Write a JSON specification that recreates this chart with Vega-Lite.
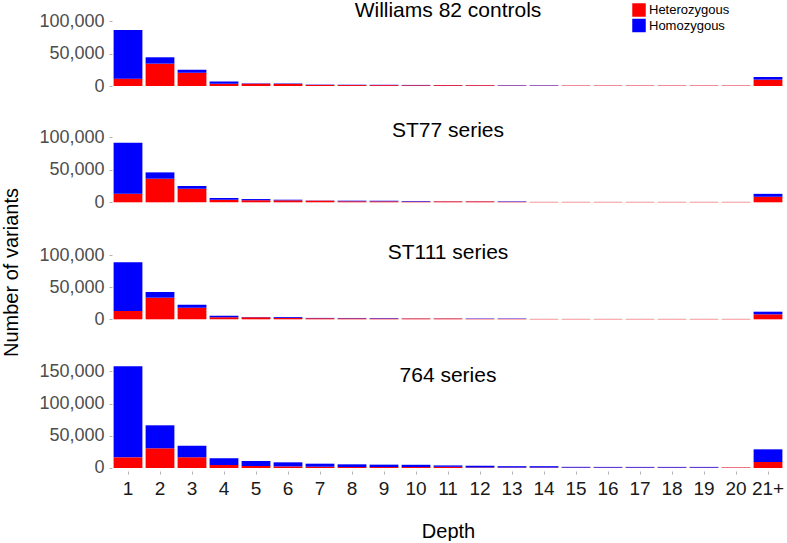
{
  "$schema": "https://vega.github.io/schema/vega-lite/v6.json",
  "padding": {"left": 0, "top": 0, "right": 0, "bottom": 0},
  "background": "white",
  "data": {"values": [
    {"series":"Williams 82 controls","depth":"1","type":"Heterozygous","count":11400},{"series":"Williams 82 controls","depth":"1","type":"Homozygous","count":75200},
    {"series":"Williams 82 controls","depth":"2","type":"Heterozygous","count":34600},{"series":"Williams 82 controls","depth":"2","type":"Homozygous","count":9800},
    {"series":"Williams 82 controls","depth":"3","type":"Heterozygous","count":20700},{"series":"Williams 82 controls","depth":"3","type":"Homozygous","count":4600},
    {"series":"Williams 82 controls","depth":"4","type":"Heterozygous","count":3700},{"series":"Williams 82 controls","depth":"4","type":"Homozygous","count":3100},
    {"series":"Williams 82 controls","depth":"5","type":"Heterozygous","count":3600},{"series":"Williams 82 controls","depth":"5","type":"Homozygous","count":600},
    {"series":"Williams 82 controls","depth":"6","type":"Heterozygous","count":3300},{"series":"Williams 82 controls","depth":"6","type":"Homozygous","count":700},
    {"series":"Williams 82 controls","depth":"7","type":"Heterozygous","count":1700},{"series":"Williams 82 controls","depth":"7","type":"Homozygous","count":500},
    {"series":"Williams 82 controls","depth":"8","type":"Heterozygous","count":1500},{"series":"Williams 82 controls","depth":"8","type":"Homozygous","count":500},
    {"series":"Williams 82 controls","depth":"9","type":"Heterozygous","count":1400},{"series":"Williams 82 controls","depth":"9","type":"Homozygous","count":500},
    {"series":"Williams 82 controls","depth":"10","type":"Heterozygous","count":1200},{"series":"Williams 82 controls","depth":"10","type":"Homozygous","count":500},
    {"series":"Williams 82 controls","depth":"11","type":"Heterozygous","count":1300},{"series":"Williams 82 controls","depth":"11","type":"Homozygous","count":200},
    {"series":"Williams 82 controls","depth":"12","type":"Heterozygous","count":1200},{"series":"Williams 82 controls","depth":"12","type":"Homozygous","count":200},
    {"series":"Williams 82 controls","depth":"13","type":"Heterozygous","count":700},{"series":"Williams 82 controls","depth":"13","type":"Homozygous","count":600},
    {"series":"Williams 82 controls","depth":"14","type":"Heterozygous","count":600},{"series":"Williams 82 controls","depth":"14","type":"Homozygous","count":600},
    {"series":"Williams 82 controls","depth":"15","type":"Heterozygous","count":700},{"series":"Williams 82 controls","depth":"15","type":"Homozygous","count":100},
    {"series":"Williams 82 controls","depth":"16","type":"Heterozygous","count":700},{"series":"Williams 82 controls","depth":"16","type":"Homozygous","count":100},
    {"series":"Williams 82 controls","depth":"17","type":"Heterozygous","count":700},{"series":"Williams 82 controls","depth":"17","type":"Homozygous","count":100},
    {"series":"Williams 82 controls","depth":"18","type":"Heterozygous","count":700},{"series":"Williams 82 controls","depth":"18","type":"Homozygous","count":100},
    {"series":"Williams 82 controls","depth":"19","type":"Heterozygous","count":700},{"series":"Williams 82 controls","depth":"19","type":"Homozygous","count":100},
    {"series":"Williams 82 controls","depth":"20","type":"Heterozygous","count":700},{"series":"Williams 82 controls","depth":"20","type":"Homozygous","count":100},
    {"series":"Williams 82 controls","depth":"21+","type":"Heterozygous","count":9900},{"series":"Williams 82 controls","depth":"21+","type":"Homozygous","count":4000},

    {"series":"ST77 series","depth":"1","type":"Heterozygous","count":13200},{"series":"ST77 series","depth":"1","type":"Homozygous","count":78500},
    {"series":"ST77 series","depth":"2","type":"Heterozygous","count":36300},{"series":"ST77 series","depth":"2","type":"Homozygous","count":9700},
    {"series":"ST77 series","depth":"3","type":"Heterozygous","count":21000},{"series":"ST77 series","depth":"3","type":"Homozygous","count":4000},
    {"series":"ST77 series","depth":"4","type":"Heterozygous","count":4000},{"series":"ST77 series","depth":"4","type":"Homozygous","count":2600},
    {"series":"ST77 series","depth":"5","type":"Heterozygous","count":3200},{"series":"ST77 series","depth":"5","type":"Homozygous","count":1800},
    {"series":"ST77 series","depth":"6","type":"Heterozygous","count":3000},{"series":"ST77 series","depth":"6","type":"Homozygous","count":1000},
    {"series":"ST77 series","depth":"7","type":"Heterozygous","count":2500},{"series":"ST77 series","depth":"7","type":"Homozygous","count":300},
    {"series":"ST77 series","depth":"8","type":"Heterozygous","count":1600},{"series":"ST77 series","depth":"8","type":"Homozygous","count":900},
    {"series":"ST77 series","depth":"9","type":"Heterozygous","count":1500},{"series":"ST77 series","depth":"9","type":"Homozygous","count":900},
    {"series":"ST77 series","depth":"10","type":"Heterozygous","count":1100},{"series":"ST77 series","depth":"10","type":"Homozygous","count":900},
    {"series":"ST77 series","depth":"11","type":"Heterozygous","count":1400},{"series":"ST77 series","depth":"11","type":"Homozygous","count":200},
    {"series":"ST77 series","depth":"12","type":"Heterozygous","count":1400},{"series":"ST77 series","depth":"12","type":"Homozygous","count":200},
    {"series":"ST77 series","depth":"13","type":"Heterozygous","count":800},{"series":"ST77 series","depth":"13","type":"Homozygous","count":700},
    {"series":"ST77 series","depth":"14","type":"Heterozygous","count":600},{"series":"ST77 series","depth":"14","type":"Homozygous","count":50},
    {"series":"ST77 series","depth":"15","type":"Heterozygous","count":600},{"series":"ST77 series","depth":"15","type":"Homozygous","count":50},
    {"series":"ST77 series","depth":"16","type":"Heterozygous","count":600},{"series":"ST77 series","depth":"16","type":"Homozygous","count":50},
    {"series":"ST77 series","depth":"17","type":"Heterozygous","count":600},{"series":"ST77 series","depth":"17","type":"Homozygous","count":50},
    {"series":"ST77 series","depth":"18","type":"Heterozygous","count":600},{"series":"ST77 series","depth":"18","type":"Homozygous","count":50},
    {"series":"ST77 series","depth":"19","type":"Heterozygous","count":600},{"series":"ST77 series","depth":"19","type":"Homozygous","count":50},
    {"series":"ST77 series","depth":"20","type":"Heterozygous","count":600},{"series":"ST77 series","depth":"20","type":"Homozygous","count":50},
    {"series":"ST77 series","depth":"21+","type":"Heterozygous","count":8500},{"series":"ST77 series","depth":"21+","type":"Homozygous","count":4500},

    {"series":"ST111 series","depth":"1","type":"Heterozygous","count":13000},{"series":"ST111 series","depth":"1","type":"Homozygous","count":76000},
    {"series":"ST111 series","depth":"2","type":"Heterozygous","count":33800},{"series":"ST111 series","depth":"2","type":"Homozygous","count":8900},
    {"series":"ST111 series","depth":"3","type":"Heterozygous","count":18100},{"series":"ST111 series","depth":"3","type":"Homozygous","count":4700},
    {"series":"ST111 series","depth":"4","type":"Heterozygous","count":3100},{"series":"ST111 series","depth":"4","type":"Homozygous","count":2600},
    {"series":"ST111 series","depth":"5","type":"Heterozygous","count":3200},{"series":"ST111 series","depth":"5","type":"Homozygous","count":400},
    {"series":"ST111 series","depth":"6","type":"Heterozygous","count":2200},{"series":"ST111 series","depth":"6","type":"Homozygous","count":1300},
    {"series":"ST111 series","depth":"7","type":"Heterozygous","count":1700},{"series":"ST111 series","depth":"7","type":"Homozygous","count":500},
    {"series":"ST111 series","depth":"8","type":"Heterozygous","count":1500},{"series":"ST111 series","depth":"8","type":"Homozygous","count":600},
    {"series":"ST111 series","depth":"9","type":"Heterozygous","count":1300},{"series":"ST111 series","depth":"9","type":"Homozygous","count":700},
    {"series":"ST111 series","depth":"10","type":"Heterozygous","count":1300},{"series":"ST111 series","depth":"10","type":"Homozygous","count":200},
    {"series":"ST111 series","depth":"11","type":"Heterozygous","count":1300},{"series":"ST111 series","depth":"11","type":"Homozygous","count":200},
    {"series":"ST111 series","depth":"12","type":"Heterozygous","count":700},{"series":"ST111 series","depth":"12","type":"Homozygous","count":600},
    {"series":"ST111 series","depth":"13","type":"Heterozygous","count":700},{"series":"ST111 series","depth":"13","type":"Homozygous","count":600},
    {"series":"ST111 series","depth":"14","type":"Heterozygous","count":600},{"series":"ST111 series","depth":"14","type":"Homozygous","count":50},
    {"series":"ST111 series","depth":"15","type":"Heterozygous","count":600},{"series":"ST111 series","depth":"15","type":"Homozygous","count":50},
    {"series":"ST111 series","depth":"16","type":"Heterozygous","count":600},{"series":"ST111 series","depth":"16","type":"Homozygous","count":50},
    {"series":"ST111 series","depth":"17","type":"Heterozygous","count":600},{"series":"ST111 series","depth":"17","type":"Homozygous","count":50},
    {"series":"ST111 series","depth":"18","type":"Heterozygous","count":600},{"series":"ST111 series","depth":"18","type":"Homozygous","count":50},
    {"series":"ST111 series","depth":"19","type":"Heterozygous","count":600},{"series":"ST111 series","depth":"19","type":"Homozygous","count":50},
    {"series":"ST111 series","depth":"20","type":"Heterozygous","count":600},{"series":"ST111 series","depth":"20","type":"Homozygous","count":50},
    {"series":"ST111 series","depth":"21+","type":"Heterozygous","count":7800},{"series":"ST111 series","depth":"21+","type":"Homozygous","count":4100},

    {"series":"764 series","depth":"1","type":"Heterozygous","count":16600},{"series":"764 series","depth":"1","type":"Homozygous","count":141300},
    {"series":"764 series","depth":"2","type":"Heterozygous","count":30600},{"series":"764 series","depth":"2","type":"Homozygous","count":35700},
    {"series":"764 series","depth":"3","type":"Heterozygous","count":16600},{"series":"764 series","depth":"3","type":"Homozygous","count":18000},
    {"series":"764 series","depth":"4","type":"Heterozygous","count":4600},{"series":"764 series","depth":"4","type":"Homozygous","count":10400},
    {"series":"764 series","depth":"5","type":"Heterozygous","count":3100},{"series":"764 series","depth":"5","type":"Homozygous","count":7800},
    {"series":"764 series","depth":"6","type":"Heterozygous","count":2500},{"series":"764 series","depth":"6","type":"Homozygous","count":6300},
    {"series":"764 series","depth":"7","type":"Heterozygous","count":2000},{"series":"764 series","depth":"7","type":"Homozygous","count":4700},
    {"series":"764 series","depth":"8","type":"Heterozygous","count":1500},{"series":"764 series","depth":"8","type":"Homozygous","count":4200},
    {"series":"764 series","depth":"9","type":"Heterozygous","count":1500},{"series":"764 series","depth":"9","type":"Homozygous","count":3700},
    {"series":"764 series","depth":"10","type":"Heterozygous","count":1500},{"series":"764 series","depth":"10","type":"Homozygous","count":3500},
    {"series":"764 series","depth":"11","type":"Heterozygous","count":1800},{"series":"764 series","depth":"11","type":"Homozygous","count":2200},
    {"series":"764 series","depth":"12","type":"Heterozygous","count":800},{"series":"764 series","depth":"12","type":"Homozygous","count":2700},
    {"series":"764 series","depth":"13","type":"Heterozygous","count":700},{"series":"764 series","depth":"13","type":"Homozygous","count":2100},
    {"series":"764 series","depth":"14","type":"Heterozygous","count":700},{"series":"764 series","depth":"14","type":"Homozygous","count":2100},
    {"series":"764 series","depth":"15","type":"Heterozygous","count":600},{"series":"764 series","depth":"15","type":"Homozygous","count":1200},
    {"series":"764 series","depth":"16","type":"Heterozygous","count":600},{"series":"764 series","depth":"16","type":"Homozygous","count":1100},
    {"series":"764 series","depth":"17","type":"Heterozygous","count":600},{"series":"764 series","depth":"17","type":"Homozygous","count":1100},
    {"series":"764 series","depth":"18","type":"Heterozygous","count":600},{"series":"764 series","depth":"18","type":"Homozygous","count":1100},
    {"series":"764 series","depth":"19","type":"Heterozygous","count":600},{"series":"764 series","depth":"19","type":"Homozygous","count":1100},
    {"series":"764 series","depth":"20","type":"Heterozygous","count":800},{"series":"764 series","depth":"20","type":"Homozygous","count":100},
    {"series":"764 series","depth":"21+","type":"Heterozygous","count":9300},{"series":"764 series","depth":"21+","type":"Homozygous","count":19700}
  ]},
  "vconcat": [
    {
      "title": {"text": "Williams 82 controls", "offset": -9},
      "width": 672, "height": 71,
      "transform": [{"filter": {"field": "series", "equal": "Williams 82 controls"}}],
      "mark": {"type": "bar", "strokeWidth": 0},
      "encoding": {
        "x": {"field": "depth", "type": "ordinal", "sort": ["1","2","3","4","5","6","7","8","9","10","11","12","13","14","15","16","17","18","19","20","21+"], "scale": {"paddingInner": 0.1, "paddingOuter": 0.05}, "axis": null},
        "y": {"field": "count", "type": "quantitative", "stack": "zero", "scale": {"domain": [-4600, 105100], "nice": false, "zero": false}, "axis": {"values": [0, 50000, 100000], "format": ",d", "title": null}},
        "color": {"field": "type", "type": "nominal", "title": null, "scale": {"domain": ["Heterozygous", "Homozygous"], "range": ["#ff0000", "#0000ff"]}},
        "order": {"field": "type", "sort": "ascending"}
      }
    },
    {
      "title": {"text": "ST77 series", "offset": -12.7},
      "width": 672, "height": 74,
      "transform": [{"filter": {"field": "series", "equal": "ST77 series"}}],
      "mark": {"type": "bar", "strokeWidth": 0},
      "encoding": {
        "x": {"field": "depth", "type": "ordinal", "sort": ["1","2","3","4","5","6","7","8","9","10","11","12","13","14","15","16","17","18","19","20","21+"], "scale": {"paddingInner": 0.1, "paddingOuter": 0.05}, "axis": null},
        "y": {"field": "count", "type": "quantitative", "stack": "zero", "scale": {"domain": [-4150, 109700], "nice": false, "zero": false}, "axis": {"values": [0, 50000, 100000], "format": ",d", "title": null}},
        "color": {"field": "type", "type": "nominal", "title": null, "scale": {"domain": ["Heterozygous", "Homozygous"], "range": ["#ff0000", "#0000ff"]}},
        "order": {"field": "type", "sort": "ascending"}
      }
    },
    {
      "title": {"text": "ST111 series", "offset": -75.3},
      "width": 672, "height": 75,
      "transform": [{"filter": {"field": "series", "equal": "ST111 series"}}],
      "mark": {"type": "bar", "strokeWidth": 0},
      "encoding": {
        "x": {"field": "depth", "type": "ordinal", "sort": ["1","2","3","4","5","6","7","8","9","10","11","12","13","14","15","16","17","18","19","20","21+"], "scale": {"paddingInner": 0.1, "paddingOuter": 0.05}, "axis": null},
        "y": {"field": "count", "type": "quantitative", "stack": "zero", "scale": {"domain": [-4200, 113000], "nice": false, "zero": false}, "axis": {"values": [0, 50000, 100000], "format": ",d", "title": "Number of variants", "titleX": -101, "titleY": 25, "titleAngle": 270, "titleBaseline": "middle", "titleAlign": "center", "titleFontSize": 20}},
        "color": {"field": "type", "type": "nominal", "title": null, "scale": {"domain": ["Heterozygous", "Homozygous"], "range": ["#ff0000", "#0000ff"]}},
        "order": {"field": "type", "sort": "ascending"}
      }
    },
    {
      "title": {"text": "764 series", "offset": -23.5},
      "width": 672, "height": 107,
      "transform": [{"filter": {"field": "series", "equal": "764 series"}}],
      "mark": {"type": "bar", "strokeWidth": 0},
      "encoding": {
        "x": {"field": "depth", "type": "ordinal", "sort": ["1","2","3","4","5","6","7","8","9","10","11","12","13","14","15","16","17","18","19","20","21+"], "scale": {"paddingInner": 0.1, "paddingOuter": 0.05}, "axis": {"title": "Depth"}},
        "y": {"field": "count", "type": "quantitative", "stack": "zero", "scale": {"domain": [-4660, 161500], "nice": false, "zero": false}, "axis": {"values": [0, 50000, 100000, 150000], "format": ",d", "title": null}},
        "color": {"field": "type", "type": "nominal", "title": null, "scale": {"domain": ["Heterozygous", "Homozygous"], "range": ["#ff0000", "#0000ff"]}},
        "order": {"field": "type", "sort": "ascending"}
      }
    }
  ],
  "spacing": 42,
  "bounds": "flush",
  "resolve": {"scale": {"y": "independent", "x": "independent", "color": "shared"}, "legend": {"color": "shared"}},
  "config": {
    "view": {"stroke": null},
    "font": "Liberation Sans",
    "axis": {"domain": false, "grid": false, "tickSize": 3, "tickColor": "#b3b3b3", "labelFont": "Liberation Sans", "titleFont": "Liberation Sans", "titleFontWeight": "normal", "titleColor": "#000000"},
    "axisY": {"labelFontSize": 18, "labelColor": "#4d4d4d", "labelPadding": 5},
    "axisX": {"labelFontSize": 19, "labelColor": "#1a1a1a", "labelAngle": 0, "labelPadding": 5, "titleFontSize": 20, "titlePadding": 23},
    "legend": {"orient": "none", "legendX": 520, "legendY": -15, "padding": 0, "symbolType": "square", "symbolSize": 182, "symbolStrokeWidth": 0, "symbolOpacity": 1, "labelFont": "Liberation Sans", "labelFontSize": 13, "labelColor": "#000000", "labelOffset": 3, "rowPadding": 1.5},
    "title": {"font": "Liberation Sans", "fontSize": 21, "fontWeight": "normal", "color": "#000000", "anchor": "middle", "frame": "group"}
  }
}
